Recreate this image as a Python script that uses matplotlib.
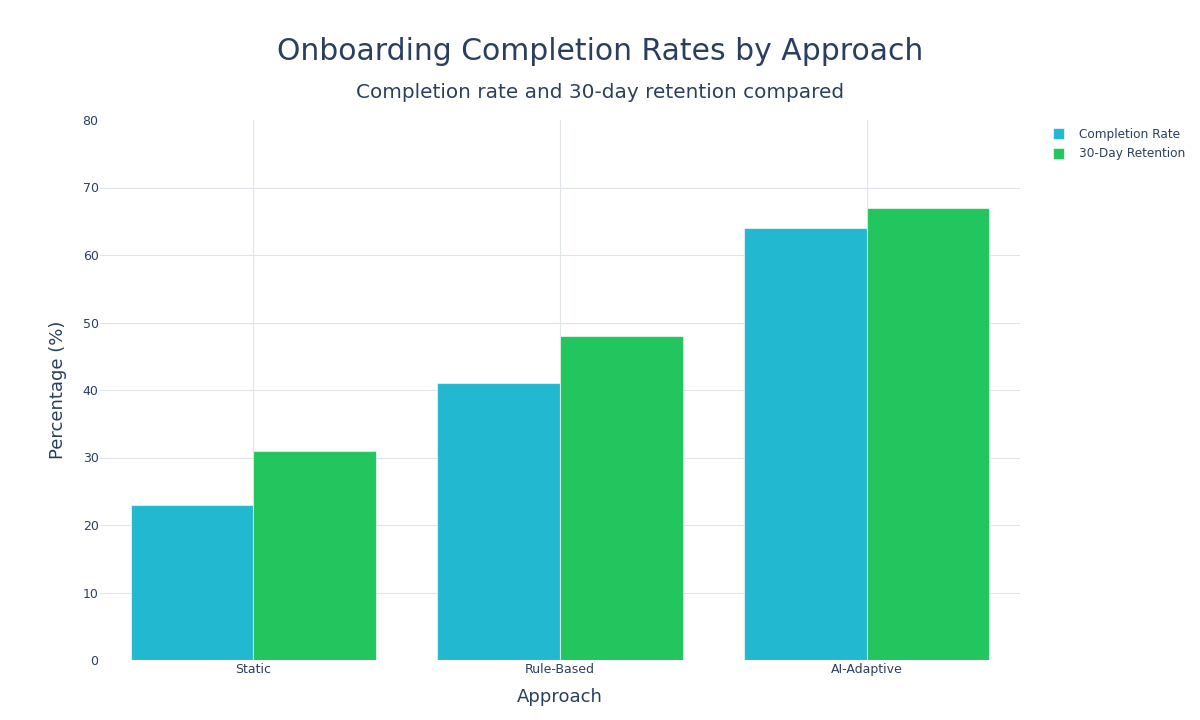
import matplotlib
matplotlib.use("Agg")
import matplotlib.pyplot as plt
import numpy as np

categories = ["Static", "Rule-Based", "AI-Adaptive"]
completion_rate = [23, 41, 64]
retention_30d = [31, 48, 67]
series_names = ["Completion Rate", "30-Day Retention"]
colors = ["#22B8CF", "#22C55E"]
yticks = [0, 10, 20, 30, 40, 50, 60, 70, 80]

txt = "#2A3F5F"
plt.rcParams['font.family'] = ['DejaVu Sans']

fig = plt.figure(figsize=(12, 7.2), dpi=100)
ax = fig.add_axes([100/1200, 60/720, 920/1200, 540/720])

x = np.arange(len(categories))
w = 0.4
ax.bar(x - w/2, completion_rate, width=w, color=colors[0], edgecolor=(1, 1, 1, 0.6), linewidth=0.8,
       label=series_names[0], zorder=3)
ax.bar(x + w/2, retention_30d, width=w, color=colors[1], edgecolor=(1, 1, 1, 0.6), linewidth=0.8,
       label=series_names[1], zorder=3)

ax.set_xlim(-0.5, 2.5)
ax.set_ylim(0, 80)
ax.set_yticks(yticks)
ax.set_xticks(x)
ax.set_xticklabels(categories)
ax.grid(True, color="#DFE3EA", linewidth=0.8, zorder=0)
ax.set_axisbelow(True)
ygl = ax.yaxis.get_gridlines()
ygl[0].set_visible(False)
ygl[-1].set_visible(False)
for s in ax.spines.values():
    s.set_visible(False)
ax.tick_params(axis='both', length=0, labelsize=9, labelcolor=txt)
ax.tick_params(axis='x', pad=2)
ax.tick_params(axis='y', pad=1)

ax.set_xlabel("Approach", fontsize=13, color=txt, labelpad=9)
ax.set_ylabel("Percentage (%)", fontsize=13, color=txt, labelpad=11)

fig.text(600/1200, 1 - 51/720, "Onboarding Completion Rates by Approach", ha='center', va='center',
         fontsize=21.5, color=txt)
fig.text(600/1200, 1 - 93/720, "Completion rate and 30-day retention compared", ha='center', va='center',
         fontsize=14.4, color=txt)

leg = fig.legend(loc='upper left', bbox_to_anchor=(1048/1200, 1 - 123/720), frameon=False,
                 fontsize=8.7, handlelength=0.95, handleheight=0.95, handletextpad=1.25, labelspacing=0.55,
                 borderaxespad=0)
for t in leg.get_texts():
    t.set_color(txt)

fig.savefig("out.png", dpi=100, facecolor="white")
